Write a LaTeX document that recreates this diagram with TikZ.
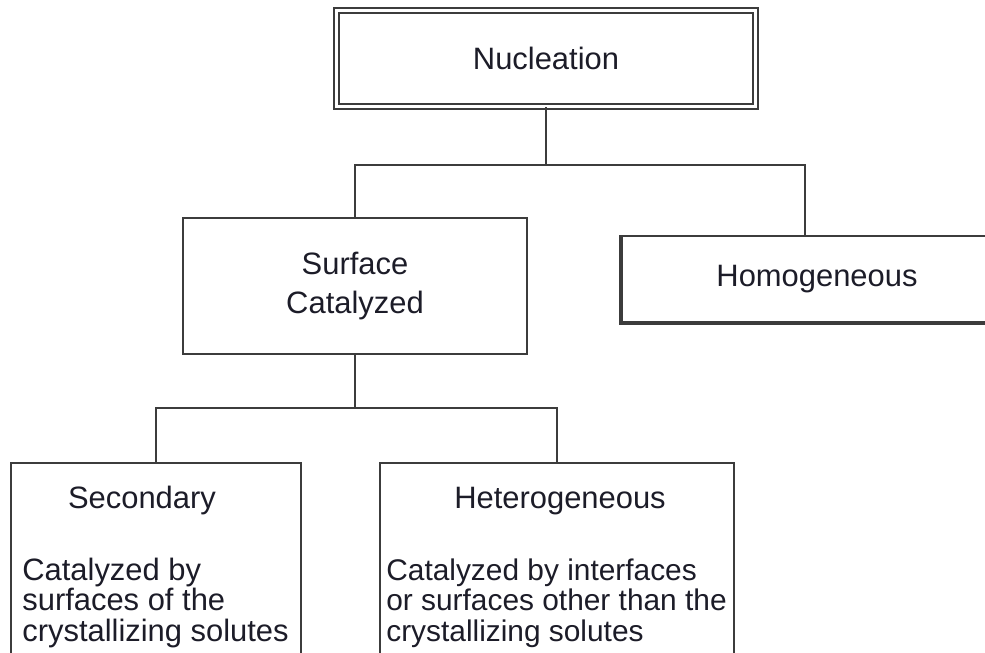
\documentclass[tikz,border=0pt]{standalone}
\usepackage{fontspec}
\setmainfont{Liberation Sans}
\usepackage{tikz}
\usetikzlibrary{calc,positioning}
\definecolor{colorln}{HTML}{3C3C3C}
\definecolor{colortx}{HTML}{1C1C28}
\newcommand\boxfont{\fontsize{17.6}{17.3}\selectfont}
\tikzset{
  boxtop/.style={draw=colorln, double, double distance=0.07cm, line width=0.03cm, inner sep=0pt, font=\boxfont, text=colortx},
  boxmid/.style={draw=colorln, line width=0.04cm, inner sep=0pt, font=\boxfont, text=colortx},
  boxlow/.style={draw=colorln, line width=0.04cm, inner sep=0pt},
  txt/.style={inner sep=0pt, font=\boxfont, text=colortx},
  edgetree/.style={colorln, line width=0.04cm}
}

\begin{document}
\begin{tikzpicture}[x=0.02cm, y=-0.02cm]
\clip (0,0) rectangle (985,653);
\node[boxtop, minimum width=8.38cm, minimum height=1.92cm] (nuc) at (546,58.5) {Nucleation};
\node[boxmid, minimum width=6.88cm, minimum height=2.72cm, align=center,
  font=\fontsize{17.6}{22.7}\selectfont] (surf) at (355,286) {Surface\\Catalyzed};
\node[boxmid, minimum width=7.8cm, minimum height=1.72cm] (homo) at (817,279) {Homogeneous};
\draw[colorln, line width=0.08cm] (homo.north west) -- (homo.south west) -- (homo.south east);
\node[boxlow, minimum width=5.8cm, minimum height=4.34cm] (sec) at (156,571.5) {};
\node[boxlow, minimum width=7.08cm, minimum height=4.34cm] (het) at (557,571.5) {};
% texts of the lower boxes
\node[txt, anchor=base] (sectitle) at (142,508) {Secondary};
\node[txt, anchor=base west, align=left] (secbody) at (22,641) {Catalyzed by\\surfaces of the\\crystallizing solutes};
\node[txt, anchor=base] (hettitle) at (560,508) {Heterogeneous};
\node[txt, anchor=base west, align=left, font=\fontsize{17}{17.3}\selectfont] (hetbody) at (386,641) {Catalyzed by interfaces\\or surfaces other than the\\crystallizing solutes};
% tree lines
\coordinate (split1) at (546,165);
\coordinate (split2) at (355,408);
\draw[edgetree] (nuc.south) -- (split1);
\draw[edgetree] (surf.north) |- (split1) -| ([xshift=-0.24cm]homo.north);
\draw[edgetree] (surf.south) -- (split2);
\draw[edgetree] (sec.north) |- (split2) -| (het.north);
\end{tikzpicture}
\end{document}
